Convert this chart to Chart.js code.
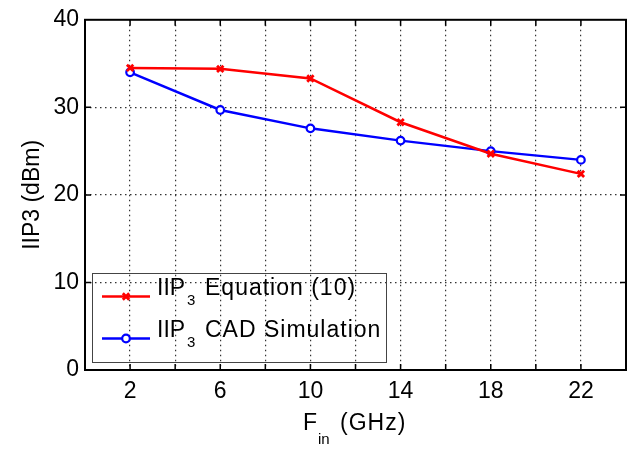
<!DOCTYPE html>
<html>
<head>
<meta charset="utf-8">
<script src="https://cdn.jsdelivr.net/npm/chart.js@4.4.0/dist/chart.umd.min.js"></script>
<style>
  html, body { margin: 0; padding: 0; background: #fff; }
  #wrap { width: 639px; height: 449px; }
</style>
</head>
<body>
<div id="wrap"><canvas id="c"></canvas></div>
<script>
// values
const freqs = [2, 6, 10, 14, 18, 22];
const iip3Equation = [34.5, 34.4, 33.3, 28.3, 24.7, 22.4];
const iip3Cad = [34.0, 29.7, 27.6, 26.2, 25.0, 24.0];
const xTickLabels = [2, 6, 10, 14, 18, 22];
const yTickLabels = [0, 10, 20, 30, 40];
const legendNames = ["Equation (10)", "CAD Simulation"];

const FONT = "'Liberation Sans', Arial, sans-serif";

// MATLAB-ish box, inward ticks, legend with subscripts and x title
const matlabFrame = {
  id: "matlabFrame",
  afterDraw(chart) {
    const { ctx, chartArea: a, scales: { x, y } } = chart;
    ctx.save();
    ctx.strokeStyle = "#000";
    ctx.lineWidth = 2;
    ctx.strokeRect(a.left, a.top, a.right - a.left, a.bottom - a.top);

    ctx.lineWidth = 1.5;
    for (let v = 2; v < 24; v += 2) {
      const px = x.getPixelForValue(v);
      ctx.beginPath();
      ctx.moveTo(px, a.bottom); ctx.lineTo(px, a.bottom - 6);
      ctx.moveTo(px, a.top); ctx.lineTo(px, a.top + 6);
      ctx.stroke();
    }
    for (const v of yTickLabels.slice(1, -1)) {
      const py = y.getPixelForValue(v);
      ctx.beginPath();
      ctx.moveTo(a.left, py); ctx.lineTo(a.left + 6, py);
      ctx.moveTo(a.right, py); ctx.lineTo(a.right - 6, py);
      ctx.stroke();
    }

    // legend (transparent, MATLAB style)
    ctx.lineWidth = 1;
    ctx.strokeStyle = "#444";
    ctx.strokeRect(92.5, 273.5, 294, 89);
    const rows = [296.5, 338.5];
    chart.data.datasets.forEach((ds, i) => {
      const ly = rows[i];
      ctx.strokeStyle = ds.borderColor;
      ctx.lineWidth = 2.5;
      ctx.beginPath();
      ctx.moveTo(102, ly); ctx.lineTo(150, ly);
      ctx.stroke();
      ctx.fillStyle = ds.pointBackgroundColor;
      ctx.strokeStyle = ds.borderColor;
      ctx.lineWidth = ds.pointBorderWidth;
      Chart.helpers.drawPoint(ctx, {
        pointStyle: ds.pointStyle, radius: ds.pointRadius, rotation: 0,
        borderWidth: ds.pointBorderWidth
      }, 126, ly);

      ctx.fillStyle = "#000";
      ctx.textBaseline = "alphabetic";
      ctx.textAlign = "left";
      ctx.letterSpacing = "0px";
      ctx.font = "23px " + FONT;
      const base = ly - 1.5;
      ctx.fillText("IIP", 157, base);
      ctx.font = "15px " + FONT;
      ctx.fillText("3", 187, base + 10);
      ctx.font = "23px " + FONT;
      ctx.letterSpacing = "1px";
      ctx.fillText(legendNames[i], 205, base);
    });

    // x title F_in (GHz)
    ctx.fillStyle = "#000";
    ctx.letterSpacing = "0px";
    ctx.font = "23px " + FONT;
    ctx.fillText("F", 303, 430);
    ctx.font = "15px " + FONT;
    ctx.fillText("in", 318, 444);
    ctx.font = "23px " + FONT;
    ctx.letterSpacing = "1px";
    ctx.fillText("(GHz)", 340, 430);
    ctx.restore();
  }
};

const toPoints = (vals) => vals.map((v, i) => ({ x: freqs[i], y: v }));

new Chart(document.getElementById("c"), {
  type: "line",
  data: {
    datasets: [
      {
        label: "IIP3 Equation (10)",
        data: toPoints(iip3Equation),
        borderColor: "#ff0000",
        borderWidth: 2.5,
        pointStyle: "crossRot",
        pointRadius: 4.5,
        pointBorderWidth: 2.8,
        pointBackgroundColor: "#ff0000",
        pointBorderColor: "#ff0000",
        tension: 0
      },
      {
        label: "IIP3 CAD Simulation",
        data: toPoints(iip3Cad),
        borderColor: "#0000ff",
        borderWidth: 2.5,
        pointStyle: "circle",
        pointRadius: 3.8,
        pointBorderWidth: 2.2,
        pointBackgroundColor: "#ffffff",
        pointBorderColor: "#0000ff",
        tension: 0
      }
    ]
  },
  options: {
    responsive: true,
    maintainAspectRatio: false,
    animation: false,
    layout: { padding: { left: 0, right: 13, top: 8, bottom: 0 } },
    plugins: { legend: { display: false }, tooltip: { enabled: false } },
    scales: {
      x: {
        type: "linear",
        min: 0,
        max: 24,
        afterFit: (s) => { s.height = 79; },
        border: { display: false, dash: [1.5, 3.5] },
        grid: {
          drawTicks: false,
          lineWidth: 1.2,
          color: (c) => (c.tick && (c.tick.value === 0 || c.tick.value === 24)) ? "rgba(0,0,0,0)" : "#333"
        },
        ticks: {
          stepSize: 2,
          padding: 8,
          color: "#000",
          font: { size: 23, family: FONT },
          callback: (v) => xTickLabels.includes(v) ? String(v) : ""
        }
      },
      y: {
        min: 0,
        max: 40,
        afterFit: (s) => { s.width = 85; },
        border: { display: false, dash: [1.5, 3.5] },
        grid: {
          drawTicks: false,
          lineWidth: 1.2,
          color: (c) => (c.tick && (c.tick.value === 0 || c.tick.value === 40)) ? "rgba(0,0,0,0)" : "#333"
        },
        ticks: {
          stepSize: 10,
          padding: 6,
          color: "#000",
          font: { size: 23, family: FONT },
          callback: (v) => yTickLabels.includes(v) ? String(v) : ""
        },
        title: {
          display: true,
          text: "IIP3 (dBm)",
          color: "#000",
          font: { size: 23, family: FONT },
          padding: { top: 19, bottom: 0 }
        }
      }
    }
  },
  plugins: [matlabFrame]
});
</script>
</body>
</html>
